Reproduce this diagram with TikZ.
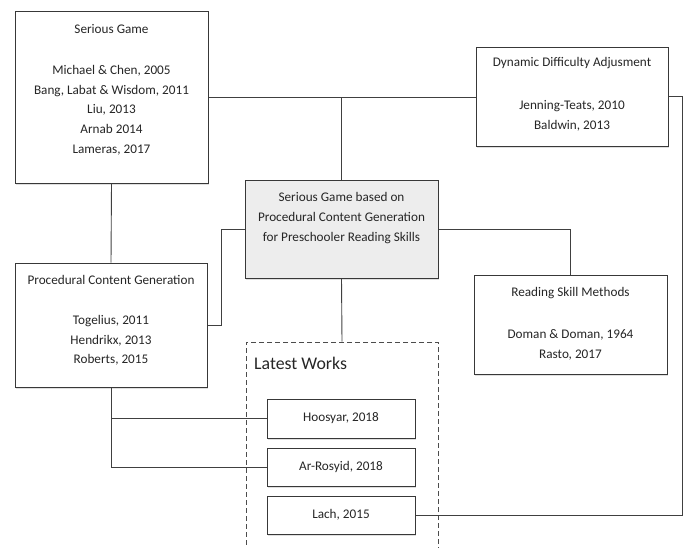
\documentclass[tikz,border=0pt]{standalone}
\usepackage{fontspec}
\setmainfont{Carlito}
\usetikzlibrary{shadows,calc}
\begin{document}
\begin{tikzpicture}[x=1pt,y=-1pt,
  box/.style={draw=black!78, line width=1pt, fill=white, inner sep=0pt,
    drop shadow={shadow xshift=1.2pt, shadow yshift=-1.6pt, fill=black!25, opacity=0.5}},
  graybox/.style={box, fill=black!7},
  group/.style={draw=black!70, line width=0.9pt, dash pattern=on 5pt off 3pt, inner sep=0pt},
  txt/.style={font=\fontsize{13.2}{19.7}\selectfont, align=center, inner sep=0pt, text=black!85},
  link/.style={draw=black!75, line width=0.9pt}]
\useasboundingbox (0,0) rectangle (684,547);

% boxes
\node[box, minimum width=193, minimum height=172] (sg) at (111.5,97) {};
\node[box, minimum width=192, minimum height=99] (dda) at (572,96.5) {};
\node[graybox, minimum width=193, minimum height=98] (core) at (341.5,229) {};
\node[box, minimum width=192, minimum height=124] (pcg) at (111,325) {};
\node[box, minimum width=193, minimum height=99] (rsm) at (570.5,324.5) {};
\node[group, minimum width=192, minimum height=258] (latest) at (342,471) {};
\node[box, minimum width=148, minimum height=39] (hoo) at (341,418.5) {};
\node[box, minimum width=148, minimum height=38] (ars) at (341,467) {};
\node[box, minimum width=148, minimum height=38] (lach) at (341,515) {};

% texts
\node[txt] (sgT) at (111.5,29) {Serious Game};
\node[txt] (sgL) at (111.5,110) {Michael \& Chen, 2005\\Bang, Labat \& Wisdom, 2011\\Liu, 2013\\Arnab 2014\\Lameras, 2017};
\node[txt] (ddaT) at (572,63) {Dynamic Difficulty Adjusment};
\node[txt] (ddaL) at (572,115.5) {Jenning-Teats, 2010\\Baldwin, 2013};
\node[txt] (coreT) at (341.5,218) {Serious Game based on\\Procedural Content Generation\\for Preschooler Reading Skills};
\node[txt] (pcgT) at (111,280) {Procedural Content Generation};
\node[txt] (pcgL) at (111,340.5) {Togelius, 2011\\Hendrikx, 2013\\Roberts, 2015};
\node[txt] (rsmT) at (570.5,293) {Reading Skill Methods};
\node[txt] (rsmL) at (570.5,344.5) {Doman \& Doman, 1964\\Rasto, 2017};
\node[txt, font=\fontsize{17.8}{20}\selectfont, anchor=west] (latestT) at (254,363) {Latest Works};
\node[txt] (hooT) at (hoo) {Hoosyar, 2018};
\node[txt] (arsT) at (ars) {Ar-Rosyid, 2018};
\node[txt] (lachT) at (lach) {Lach, 2015};

% connectors
\coordinate (edge) at (682,96.5);
\draw[link] (sg.east) -- (sg.east -| dda.west);
\draw[link] (core.north) -- (core.north |- sg.east);
\draw[link] (sg.south) -- (pcg.north);
\draw[link] (core.west) -- ++(-23,0) |- (pcg.east);
\draw[link] (core.east) -| (rsm.north);
\draw[link] (core.south) -- (latest.north);
\draw[link] (pcg.south) |- (hoo.west);
\draw[link] (pcg.south) |- (ars.west);
\draw[link] (lach.east) -| (edge) -- (dda.east);
\end{tikzpicture}
\end{document}
